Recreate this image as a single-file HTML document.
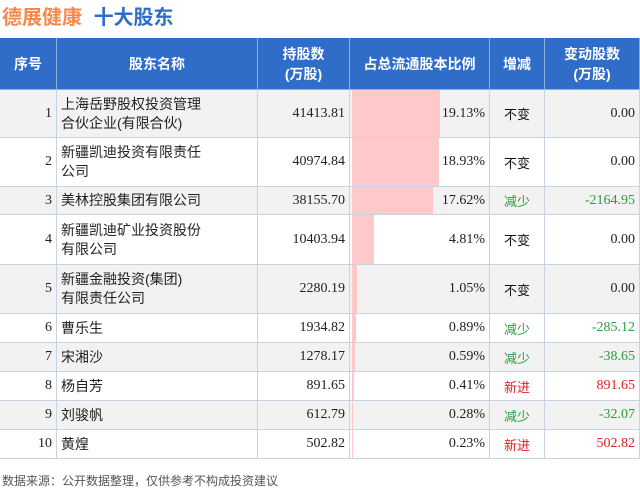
<!DOCTYPE html>
<html><head><meta charset="utf-8"><style>
body{margin:0;width:640px;height:490px;background:#fff;position:relative;overflow:hidden;font-family:"Liberation Sans","Noto Sans CJK SC",sans-serif}
.t{position:absolute;left:2px;top:1px;font-size:20px;font-weight:bold;letter-spacing:0px}
.c{position:absolute;box-sizing:border-box;border-right:1px solid #c5d3e3;border-bottom:1px solid #c5d3e3;font-size:13px;color:#222;display:flex;align-items:center}
.h{background:#2f6dc9;color:#fff;font-weight:bold;font-size:14px;justify-content:center;text-align:center;line-height:20px;border-color:#8fb0de}
.num{font-family:"Liberation Serif","Noto Sans CJK SC",serif;font-size:14px;justify-content:flex-end;padding-right:4px}
.foot{position:absolute;left:2px;top:472px;font-size:12px;color:#555}
</style></head><body>
<div class="t"><span style="color:#f5894a">德展健康</span> <span style="color:#2f6dc9;margin-left:6px">十大股东</span></div>
<div id="tb"></div>
<div class="foot">数据来源：公开数据整理，仅供参考不构成投资建议</div>
<script>
const names=["上海岳野股权投资管理<br>合伙企业(有限合伙)","新疆凯迪投资有限责任<br>公司","美林控股集团有限公司","新疆凯迪矿业投资股份<br>有限公司","新疆金融投资(集团)<br>有限责任公司","曹乐生","宋湘沙","杨自芳","刘骏帆","黄煌"];
const shares=["41413.81","40974.84","38155.70","10403.94","2280.19","1934.82","1278.17","891.65","612.79","502.82"];
const pct=[19.13,18.93,17.62,4.81,1.05,0.89,0.59,0.41,0.28,0.23];
const chg=["不变","不变","减少","不变","不变","减少","减少","新进","减少","新进"];
const delta=["0.00","0.00","-2164.95","0.00","0.00","-285.12","-38.65","891.65","-32.07","502.82"];
const rowH=[48,49,28,50,49,29,29,29,29,29];
const colX=[0,57,258,350,490,545,640];
const tb=document.getElementById('tb');
function cell(x,y,w,h,html,cls){const d=document.createElement('div');d.className='c '+cls;d.style.cssText=`left:${x}px;top:${y}px;width:${w}px;height:${h}px;`;d.innerHTML=html;tb.appendChild(d);return d;}
const heads=["序号","股东名称","持股数<br>(万股)","占总流通股本比例","增减","变动股数<br>(万股)"];
const hn=["header-rank","header-name","header-shares","header-ratio","header-change","header-delta"];
heads.forEach((h,i)=>{const d=cell(colX[i],38,colX[i+1]-colX[i],52,h,'h');

});
const scale=88/19.13;
let y=90;
names.forEach((n,r)=>{const h=rowH[r];const bg=r%2==0?'#f2f2f2':'#fff';
const cs=[];
cs.push(cell(0,y,57,h,String(r+1),'num'));
cs.push(cell(57,y,201,h,n,''));cs[1].style.padding='0 0 0 4px';cs[1].style.lineHeight='19px';cs[1].style.fontSize='14px';
cs.push(cell(258,y,92,h,shares[r],'num'));
const p=cell(350,y,140,h,'','num');cs.push(p);
const bar=document.createElement('div');bar.style.cssText=`position:absolute;left:2px;top:0;bottom:0;width:${pct[r]*scale}px;background:#ffc9c9`;


p.appendChild(bar);
const sp=document.createElement('span');sp.style.position='relative';sp.textContent=pct[r].toFixed(2)+'%';p.appendChild(sp);
const col=chg[r]=='减少'?'#2a9d3a':chg[r]=='新进'?'#e02020':'#111';
const cc=cell(490,y,55,h,chg[r],'');cc.style.justifyContent='center';cc.style.color=col;cs.push(cc);
const dc=cell(545,y,95,h,delta[r],'num');dc.style.color=col=='#111'?'#222':col;cs.push(dc);
cs.forEach(c=>{c.style.background=bg;});
cs.forEach((c,i)=>{

});
y+=h;});
</script>
</body></html>
